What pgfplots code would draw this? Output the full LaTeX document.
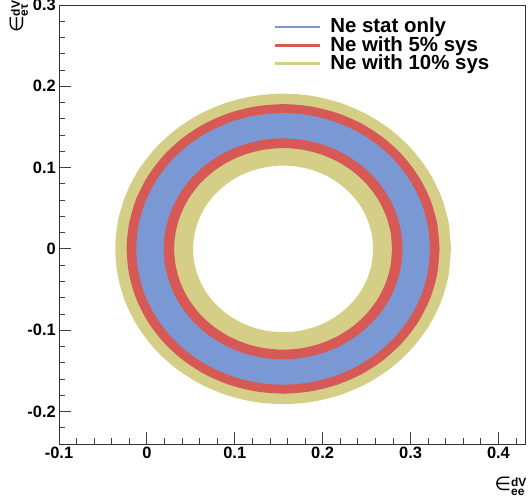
\documentclass[border=0pt]{standalone}
\usepackage{pgfplots}
\pgfplotsset{compat=1.18}
\usepackage{fontspec}
\setmainfont{Liberation Sans}
\newfontfamily\dejavu{DejaVu Sans}
\definecolor{cblue}{RGB}{122,153,212}
\definecolor{cred}{RGB}{214,89,86}
\definecolor{cyel}{RGB}{212,206,135}
\begin{document}
\begin{tikzpicture}
\path[use as bounding box] (-59bp,-60bp) rectangle (469bp,444bp);
\begin{axis}[
  at={(0bp,0bp)}, anchor=south west,
  scale only axis, width=466.7bp, height=439bp,
  xmin=-0.1, xmax=0.431, ymin=-0.24, ymax=0.3,
  xtick={-0.1,0,0.1,0.2,0.3,0.4}, xticklabels={-0.1,0,0.1,0.2,0.3,0.4},
  ytick={-0.2,-0.1,0,0.1,0.2,0.3}, yticklabels={-0.2,-0.1,0,0.1,0.2,0.3},
  minor xtick={-0.08,-0.06,-0.04,-0.02,0.02,0.04,0.06,0.08,0.12,0.14,0.16,0.18,0.22,0.24,0.26,0.28,0.32,0.34,0.36,0.38,0.42},
  minor ytick={-0.22,-0.18,-0.16,-0.14,-0.12,-0.08,-0.06,-0.04,-0.02,0.02,0.04,0.06,0.08,0.12,0.14,0.16,0.18,0.22,0.24,0.26,0.28},
  tick align=inside, xtick pos=left, ytick pos=left,
  major tick length=12bp, minor tick length=6bp,
  tick style={black!75, line width=0.8bp},
  minor tick style={black!75, line width=0.8bp},
  axis line style={black!80, line width=0.9bp},
  ticklabel style={font=\bfseries\fontsize{16.5}{16.5}\selectfont},
  yticklabel style={inner xsep=3bp},
  unbounded coords=jump,
  xlabel={{\dejavu\fontsize{19}{19}\selectfont ∈}$^{\mbox{\bfseries\fontsize{12}{12}\selectfont dV}}_{\mbox{\bfseries\fontsize{12}{12}\selectfont ee}}$},
  xlabel style={at={(axis description cs:1.003,-0.075)}, anchor=north east, inner sep=0pt},
  ylabel={{\dejavu\fontsize{19}{19}\selectfont ∈}$^{\mbox{\bfseries\fontsize{12}{12}\selectfont dV}}_{\mbox{\bfseries\fontsize{12}{12}\selectfont eτ}}$},
  ylabel style={at={(axis description cs:-0.0857,1.011)}, anchor=east, inner sep=0pt},
  legend image code/.code={\draw[#1] (0bp,0bp) -- (45bp,0bp);},
  legend cell align=left,
  legend style={at={(axis description cs:0.4586,0.971)}, anchor=north west,
    draw=none, fill=none, inner sep=0pt, outer sep=0pt,
    column sep=9bp, row sep=0pt,
    font=\bfseries\fontsize{20.5}{20.5}\selectfont,
    nodes={inner sep=0pt, text height=15bp, text depth=3.3bp}},
]
\addlegendimage{cblue, line width=2bp}
\addlegendentry{Ne stat only}
\addlegendimage{cred, line width=3.3bp}
\addlegendentry{Ne with 5\% sys}
\addlegendimage{cyel, line width=2.7bp}
\addlegendentry{Ne with 10\% sys}

% Ne with 10% sys: outer and inner contour
\addplot[forget plot, smooth, fill=cyel, draw=none, even odd rule] coordinates {
(0.346,0) (0.3431,0.0332) (0.3345,0.0653) (0.3204,0.0955) (0.3013,0.1228) (0.2778,0.1463) (0.2505,0.1654) (0.2203,0.1795) (0.1882,0.1881) (0.155,0.191) (0.1218,0.1881) (0.0897,0.1795) (0.0595,0.1654) (0.0322,0.1463) (0.0087,0.1228) (-0.0104,0.0955) (-0.0245,0.0653) (-0.0331,0.0332) (-0.036,0) (-0.0331,-0.0332) (-0.0245,-0.0653) (-0.0104,-0.0955) (0.0087,-0.1228) (0.0322,-0.1463) (0.0595,-0.1654) (0.0897,-0.1795) (0.1218,-0.1881) (0.155,-0.191) (0.1882,-0.1881) (0.2203,-0.1795) (0.2505,-0.1654) (0.2778,-0.1463) (0.3013,-0.1228) (0.3204,-0.0955) (0.3345,-0.0653) (0.3431,-0.0332) (0.346,0)
(nan,nan)
(0.2575,0) (0.2559,0.0178) (0.2513,0.0351) (0.2438,0.0513) (0.2335,0.0659) (0.2209,0.0785) (0.2063,0.0888) (0.1901,0.0963) (0.1728,0.1009) (0.155,0.1025) (0.1372,0.1009) (0.1199,0.0963) (0.1037,0.0888) (0.0891,0.0785) (0.0765,0.0659) (0.0662,0.0513) (0.0587,0.0351) (0.0541,0.0178) (0.0525,0) (0.0541,-0.0178) (0.0587,-0.0351) (0.0662,-0.0513) (0.0765,-0.0659) (0.0891,-0.0785) (0.1037,-0.0888) (0.1199,-0.0963) (0.1372,-0.1009) (0.155,-0.1025) (0.1728,-0.1009) (0.1901,-0.0963) (0.2063,-0.0888) (0.2209,-0.0785) (0.2335,-0.0659) (0.2438,-0.0513) (0.2513,-0.0351) (0.2559,-0.0178) (0.2575,0)
};
% Ne with 5% sys
\addplot[forget plot, smooth, fill=cred, draw=none, even odd rule] coordinates {
(0.333,0) (0.3303,0.0309) (0.3223,0.0609) (0.3092,0.089) (0.2914,0.1144) (0.2694,0.1364) (0.244,0.1542) (0.2159,0.1673) (0.1859,0.1753) (0.155,0.178) (0.1241,0.1753) (0.0941,0.1673) (0.066,0.1542) (0.0406,0.1364) (0.0186,0.1144) (0.0008,0.089) (-0.0123,0.0609) (-0.0203,0.0309) (-0.023,0) (-0.0203,-0.0309) (-0.0123,-0.0609) (0.0008,-0.089) (0.0186,-0.1144) (0.0406,-0.1364) (0.066,-0.1542) (0.0941,-0.1673) (0.1241,-0.1753) (0.155,-0.178) (0.1859,-0.1753) (0.2159,-0.1673) (0.244,-0.1542) (0.2694,-0.1364) (0.2914,-0.1144) (0.3092,-0.089) (0.3223,-0.0609) (0.3303,-0.0309) (0.333,0)
(nan,nan)
(0.279,0) (0.2771,0.0215) (0.2715,0.0424) (0.2624,0.062) (0.25,0.0797) (0.2347,0.095) (0.217,0.1074) (0.1974,0.1165) (0.1765,0.1221) (0.155,0.124) (0.1335,0.1221) (0.1126,0.1165) (0.093,0.1074) (0.0753,0.095) (0.06,0.0797) (0.0476,0.062) (0.0385,0.0424) (0.0329,0.0215) (0.031,0) (0.0329,-0.0215) (0.0385,-0.0424) (0.0476,-0.062) (0.06,-0.0797) (0.0753,-0.095) (0.093,-0.1074) (0.1126,-0.1165) (0.1335,-0.1221) (0.155,-0.124) (0.1765,-0.1221) (0.1974,-0.1165) (0.217,-0.1074) (0.2347,-0.095) (0.25,-0.0797) (0.2624,-0.062) (0.2715,-0.0424) (0.2771,-0.0215) (0.279,0)
};
% Ne stat only
\addplot[forget plot, smooth, fill=cblue, draw=none, even odd rule] coordinates {
(0.322,0) (0.3195,0.029) (0.3119,0.0571) (0.2996,0.0835) (0.2829,0.1074) (0.2624,0.1279) (0.2385,0.1446) (0.2121,0.1569) (0.184,0.1645) (0.155,0.167) (0.126,0.1645) (0.0979,0.1569) (0.0715,0.1446) (0.0476,0.1279) (0.0271,0.1074) (0.0104,0.0835) (-0.0019,0.0571) (-0.0095,0.029) (-0.012,0) (-0.0095,-0.029) (-0.0019,-0.0571) (0.0104,-0.0835) (0.0271,-0.1074) (0.0476,-0.1279) (0.0715,-0.1446) (0.0979,-0.1569) (0.126,-0.1645) (0.155,-0.167) (0.184,-0.1645) (0.2121,-0.1569) (0.2385,-0.1446) (0.2624,-0.1279) (0.2829,-0.1074) (0.2996,-0.0835) (0.3119,-0.0571) (0.3195,-0.029) (0.322,0)
(nan,nan)
(0.291,0) (0.2889,0.0236) (0.2828,0.0465) (0.2728,0.068) (0.2592,0.0874) (0.2424,0.1042) (0.223,0.1178) (0.2015,0.1278) (0.1786,0.1339) (0.155,0.136) (0.1314,0.1339) (0.1085,0.1278) (0.087,0.1178) (0.0676,0.1042) (0.0508,0.0874) (0.0372,0.068) (0.0272,0.0465) (0.0211,0.0236) (0.019,0) (0.0211,-0.0236) (0.0272,-0.0465) (0.0372,-0.068) (0.0508,-0.0874) (0.0676,-0.1042) (0.087,-0.1178) (0.1085,-0.1278) (0.1314,-0.1339) (0.155,-0.136) (0.1786,-0.1339) (0.2015,-0.1278) (0.223,-0.1178) (0.2424,-0.1042) (0.2592,-0.0874) (0.2728,-0.068) (0.2828,-0.0465) (0.2889,-0.0236) (0.291,0)
};
\end{axis}
\end{tikzpicture}
\end{document}
